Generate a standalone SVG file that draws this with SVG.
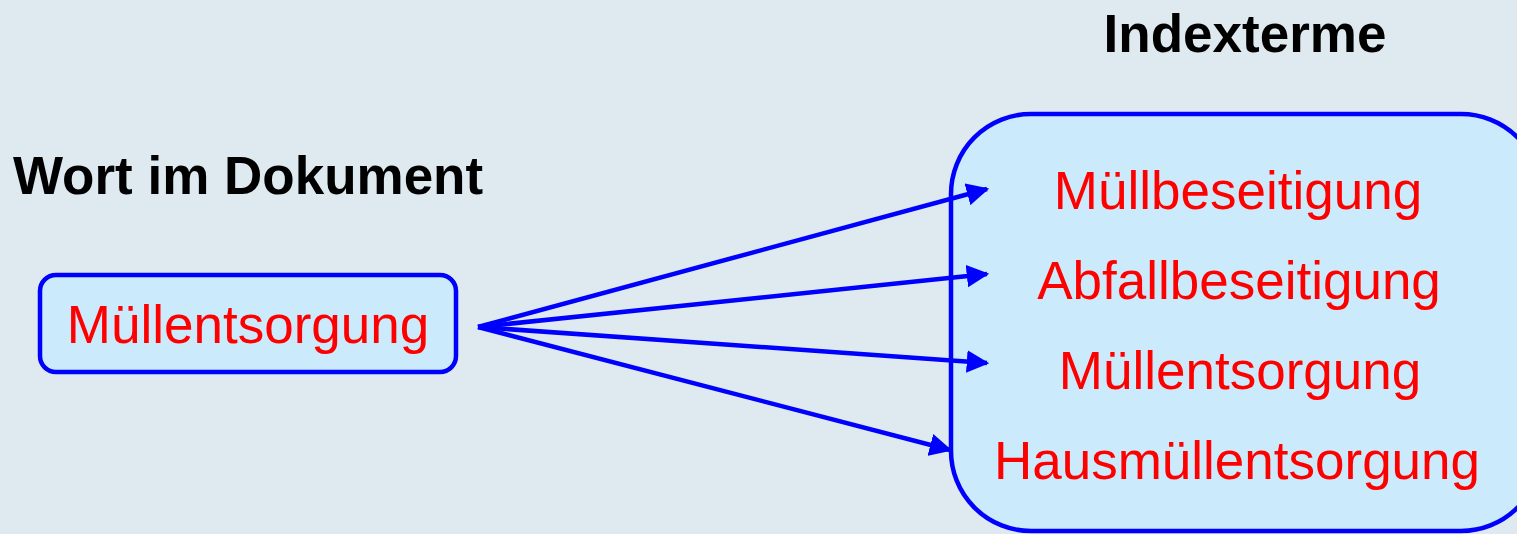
<svg xmlns="http://www.w3.org/2000/svg" width="1517" height="534" viewBox="0 0 1517 534">
<style>
.box{fill:#cbeafc;stroke:#0000ff;stroke-width:4.5}
.red{font-family:"Liberation Sans",Arial,sans-serif;font-size:53px;fill:#ff0000}
.head{font-family:"Liberation Sans",Arial,sans-serif;font-size:53px;font-weight:bold;fill:#000000}
.conn{stroke:#0000ff;stroke-width:4.5;fill:none;marker-end:url(#arr)}
</style>
<defs>
<marker id="arr" viewBox="0 0 10 10" refX="9" refY="5" markerWidth="5" markerHeight="5" orient="auto" markerUnits="strokeWidth">
<path d="M0,0 L10,5 L0,10 z" fill="#0000ff"/>
</marker>
</defs>
<rect width="1517" height="534" fill="#dfeaf0"/>
<g id="label-indexterme"><text class="head" x="1245" y="52" text-anchor="middle">Indexterme</text></g>
<g id="label-wort"><text class="head" x="13" y="194">Wort im Dokument</text></g>
<g id="node-source">
<rect class="box" x="40" y="275" width="416" height="97" rx="16"/>
<text class="red" x="248" y="343" text-anchor="middle">Müllentsorgung</text>
</g>
<g id="node-index">
<rect class="box" x="951" y="114" width="590" height="417" rx="80"/>
<text class="red" x="1238" y="209" text-anchor="middle">Müllbeseitigung</text>
<text class="red" x="1239" y="299" text-anchor="middle">Abfallbeseitigung</text>
<text class="red" x="1240" y="389" text-anchor="middle">Müllentsorgung</text>
<text class="red" x="1237" y="479" text-anchor="middle">Hausmüllentsorgung</text>
</g>
<g id="connectors">
<line class="conn" x1="478" y1="327" x2="987" y2="189"/>
<line class="conn" x1="478" y1="327" x2="987" y2="274"/>
<line class="conn" x1="478" y1="327" x2="987" y2="363"/>
<line class="conn" x1="478" y1="327" x2="950" y2="450"/>
</g>
</svg>
